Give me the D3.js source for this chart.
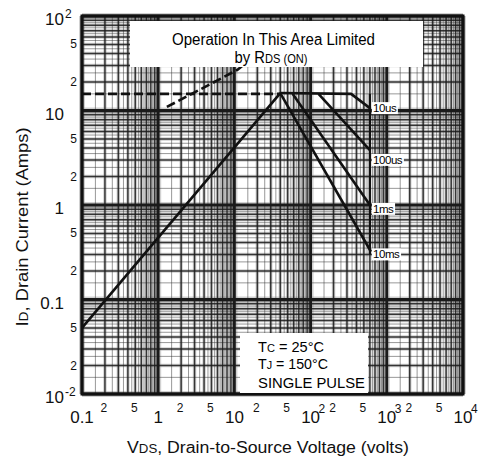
<!DOCTYPE html>
<html>
<head>
<meta charset="utf-8">
<script src="https://cdn.jsdelivr.net/npm/d3@7"></script>
<style>
  body { margin: 0; background: #fff; }
  svg { font-family: 'Liberation Sans', Arial, sans-serif; }
</style>
</head>
<body>
<div id="chart"></div>
<script>
// tick labels
const xMajorTicks = [0.1, 1, 10, 100, 1000, 10000]
const xMajorBase = ['0.1', '1', '10', '10', '10', '10']
const xMajorExp = ['', '', '', '2', '3', '4']
const xMinorTicks = [0.2, 0.5, 2, 5, 20, 50, 200, 500, 2000, 5000]
const xMinorLabels = ['2', '5', '2', '5', '2', '5', '2', '5', '2', '5']

const yMajorTicks = [0.01, 0.1, 1, 10, 100]
const yMajorBase = ['10', '0.1', '1', '10', '10']
const yMajorExp = ['-2', '', '', '', '2']
const yMinorTicks = [0.02, 0.05, 0.2, 0.5, 2, 5, 20, 50]
const yMinorLabels = ['2', '5', '2', '5', '2', '5', '2', '5']

// SOA boundaries, [volts, amps]
const rdsLimit = [[0.1, 0.05], [40, 15.3]]
const rdsLimitDashed = [[1.3, 10.9], [11, 27], [20, 40]]
const currentLimit = [[0.1, 15], [40, 15]]
const pulse10us = [[40, 15.3], [340, 15], [600, 10.6]]
const pulse100us = [[127, 15], [600, 3.8]]
const pulse1ms = [[58, 15], [600, 1.0]]
const pulse10ms = [[40, 15.3], [620, 0.32]]
const voltageLimit = [[600, 15], [600, 0.3]]

const pulseLabels = ['10us', '100us', '1ms', '10ms']
const pulseLabelAmps = [10.6, 3.0, 0.91, 0.3]
const pulseLabelVolts = 600

const margin = { top: 16, right: 18, bottom: 67, left: 82 }
const width = 481 - margin.left - margin.right
const height = 461 - margin.top - margin.bottom

const svg = d3
  .select('#chart')
  .append('svg')
  .attr('width', 481)
  .attr('height', 461)

const g = svg.append('g')
  .attr('transform', 'translate(' + margin.left + ',' + margin.top + ')')

const x = d3.scaleLog().domain([0.1, 10000]).range([0, width])
const y = d3.scaleLog().domain([0.01, 100]).range([height, 0])

const isMajor = v => Math.abs(Math.log10(v) - Math.round(Math.log10(v))) < 1e-6
const decade = v => Math.pow(10, Math.floor(Math.log10(v) + 1e-9))

/* grid */
const xGrid = x.ticks()
const yGrid = y.ticks()
// the scanned sheet shows extra faint lines between the 1..9 ones
const xHalf = xGrid.map(t => t + 0.5 * decade(t)).filter(v => v < 10000)
const yHalf = yGrid.map(t => t + 0.5 * decade(t)).filter(v => v < 100)

const halo = g.append('g').attr('stroke', '#999').attr('stroke-opacity', 0.45)
halo.selectAll('.vh').data(xGrid).enter().append('line')
  .attr('x1', d => x(d)).attr('x2', d => x(d))
  .attr('y1', 0).attr('y2', height)
  .attr('stroke-width', d => isMajor(d) ? 6 : 3.5)
halo.selectAll('.hh').data(yGrid).enter().append('line')
  .attr('y1', d => y(d)).attr('y2', d => y(d))
  .attr('x1', 0).attr('x2', width)
  .attr('stroke-width', d => isMajor(d) ? 6 : 3.5)

const faint = g.append('g').attr('stroke', '#333').attr('stroke-opacity', 0.5)
  .attr('stroke-width', 1)
faint.selectAll('.vf').data(xHalf).enter().append('line')
  .attr('x1', d => x(d)).attr('x2', d => x(d))
  .attr('y1', 0).attr('y2', height)
faint.selectAll('.hf').data(yHalf).enter().append('line')
  .attr('y1', d => y(d)).attr('y2', d => y(d))
  .attr('x1', 0).attr('x2', width)

const grid = g.append('g').attr('stroke', '#1a1a1a')
grid.selectAll('.v').data(xGrid).enter().append('line')
  .attr('x1', d => x(d)).attr('x2', d => x(d))
  .attr('y1', 0).attr('y2', height)
  .attr('stroke-width', d => isMajor(d) ? 2.8 : 1.5)
  .attr('stroke-opacity', d => isMajor(d) ? 1 : 0.85)
grid.selectAll('.h').data(yGrid).enter().append('line')
  .attr('y1', d => y(d)).attr('y2', d => y(d))
  .attr('x1', 0).attr('x2', width)
  .attr('stroke-width', d => isMajor(d) ? 2.8 : 1.5)
  .attr('stroke-opacity', d => isMajor(d) ? 1 : 0.85)

g.append('rect')
  .attr('width', width).attr('height', height)
  .attr('fill', 'none').attr('stroke', '#111').attr('stroke-width', 3)

/* SOA lines */
const line = d3.line().x(d => x(d[0])).y(d => y(d[1]))

const curves = g.append('g').attr('fill', 'none').attr('stroke', '#111')
  .attr('stroke-width', 2.6).attr('stroke-linejoin', 'round')

;[rdsLimit, pulse10us, pulse100us, pulse1ms, pulse10ms].forEach(c => {
  curves.append('path').attr('d', line(c))
})
curves.append('path').attr('d', line(voltageLimit)).attr('stroke-width', 2.2)
curves.append('path').attr('d', line(currentLimit)).attr('stroke-dasharray', '9,4')
curves.append('path').attr('d', line(rdsLimitDashed)).attr('stroke-dasharray', '9,4')

/* pulse labels */
pulseLabels.forEach((t, i) => {
  const lg = g.append('g')
  const txt = lg.append('text')
    .attr('x', x(pulseLabelVolts) + 3)
    .attr('y', y(pulseLabelAmps[i]) + 4)
    .style('font-size', '11.5px')
    .style('letter-spacing', '-0.4px')
    .text(t)
  const b = txt.node().getBBox()
  lg.insert('rect', 'text')
    .attr('x', b.x - 1).attr('y', b.y)
    .attr('width', b.width + 2).attr('height', b.height)
    .attr('fill', '#fff')
})

/* text boxes */
g.append('rect')
  .attr('x', 48).attr('y', 5).attr('width', 293).attr('height', 46)
  .attr('fill', '#fff')

g.append('text')
  .attr('x', 191.5).attr('y', 29)
  .attr('text-anchor', 'middle')
  .attr('textLength', 203).attr('lengthAdjust', 'spacingAndGlyphs')
  .style('font-size', '16px')
  .text('Operation In This Area Limited')

const by = g.append('text')
  .attr('x', 189).attr('y', 47)
  .attr('text-anchor', 'middle')
  .attr('textLength', 73).attr('lengthAdjust', 'spacingAndGlyphs')
  .style('font-size', '16px')
by.append('tspan').text('by R')
by.append('tspan').style('font-size', '12px').text('DS (ON)')

g.append('rect')
  .attr('x', 158).attr('y', 317).attr('width', 128).attr('height', 60)
  .attr('fill', '#fff')

const tc = g.append('text').attr('x', 176).attr('y', 336)
  .attr('textLength', 66).attr('lengthAdjust', 'spacingAndGlyphs')
  .style('font-size', '14.5px')
tc.append('tspan').text('T')
tc.append('tspan').style('font-size', '11px').text('C')
tc.append('tspan').text(' = 25°C')

const tj = g.append('text').attr('x', 176).attr('y', 353)
  .attr('textLength', 70).attr('lengthAdjust', 'spacingAndGlyphs')
  .style('font-size', '14.5px')
tj.append('tspan').text('T')
tj.append('tspan').style('font-size', '11px').text('J')
tj.append('tspan').text(' = 150°C')

g.append('text').attr('x', 176).attr('y', 372)
  .attr('textLength', 107).attr('lengthAdjust', 'spacingAndGlyphs')
  .style('font-size', '14.5px')
  .text('SINGLE PULSE')

/* tick labels */
const labels = svg.append('g').attr('fill', '#111')

labels.selectAll('.xmaj').data(xMajorTicks).enter().append('text')
  .attr('x', d => margin.left + x(d))
  .attr('y', 423)
  .attr('text-anchor', 'middle')
  .style('font-size', '17px')
  .text((d, i) => xMajorBase[i])
labels.selectAll('.xexp').data(xMajorTicks).enter().append('text')
  .attr('x', d => margin.left + x(d) + 8)
  .attr('y', 413)
  .style('font-size', '12px')
  .text((d, i) => xMajorExp[i])
labels.selectAll('.xmin').data(xMinorTicks).enter().append('text')
  .attr('x', d => margin.left + x(d) - 1)
  .attr('y', 412)
  .attr('text-anchor', 'middle')
  .style('font-size', '12px')
  .text((d, i) => xMinorLabels[i])

labels.selectAll('.ymaj').data(yMajorTicks).enter().append('text')
  .attr('x', 64)
  .attr('y', d => margin.top + y(d) + 9)
  .attr('text-anchor', 'end')
  .style('font-size', '17px')
  .text((d, i) => yMajorBase[i])
labels.selectAll('.yexp').data(yMajorTicks).enter().append('text')
  .attr('x', 65)
  .attr('y', d => margin.top + y(d) + 2)
  .style('font-size', '12px')
  .text((d, i) => yMajorExp[i])
labels.selectAll('.ymin').data(yMinorTicks).enter().append('text')
  .attr('x', 77)
  .attr('y', d => margin.top + y(d) + 4)
  .attr('text-anchor', 'end')
  .style('font-size', '12px')
  .text((d, i) => yMinorLabels[i])

/* axis titles */
const xt = svg.append('text')
  .attr('x', 268).attr('y', 453)
  .attr('text-anchor', 'middle')
  .attr('textLength', 282).attr('lengthAdjust', 'spacingAndGlyphs')
  .style('font-size', '16px').attr('fill', '#111')
xt.append('tspan').text('V')
xt.append('tspan').style('font-size', '12px').text('DS')
xt.append('tspan').text(', Drain-to-Source Voltage (volts)')

const yt = svg.append('text')
  .attr('transform', 'translate(28,227) rotate(-90)')
  .attr('text-anchor', 'middle')
  .attr('textLength', 199).attr('lengthAdjust', 'spacingAndGlyphs')
  .style('font-size', '16px').attr('fill', '#111')
yt.append('tspan').text('I')
yt.append('tspan').style('font-size', '12px').text('D')
yt.append('tspan').text(', Drain Current (Amps)')
</script>
</body>
</html>
